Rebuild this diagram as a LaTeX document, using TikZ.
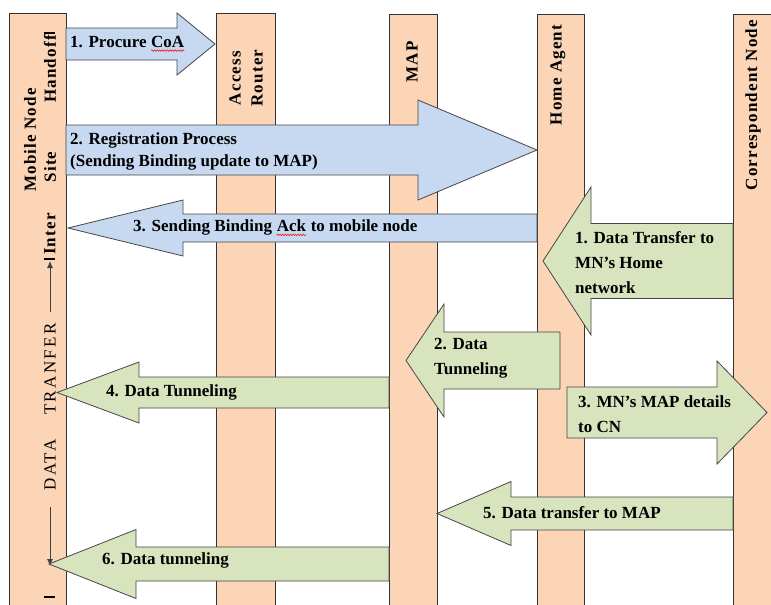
\documentclass[tikz,border=0pt]{standalone}
\usepackage{fontspec}
\setmainfont{Liberation Serif}
\newfontfamily\lanefont{Liberation Serif}[LetterSpace=7]
\newfontfamily\phasefont{Liberation Serif}[LetterSpace=14]
\usetikzlibrary{arrows.meta,decorations.pathmorphing}

\definecolor{lanefill}{RGB}{251,213,181}
\definecolor{bluefill}{RGB}{198,217,241}
\definecolor{greenfill}{RGB}{215,228,189}
\definecolor{edgegray}{RGB}{70,70,70}

% red wavy spell-check line
\newcommand{\spellmark}[1]{\tikz[baseline=(w.base)]{\node[inner sep=0pt] (w) {#1};
    \draw[red, line width=0.5pt, decorate, decoration={snake, amplitude=0.8pt, segment length=2.6pt}]
      ([yshift=-3pt]w.base west) -- ([yshift=-3pt]w.base east);}}

% tail x, head base x, tip x, mid y, half body, half head
\newcommand{\blockarrow}[7][]{%
  \draw[#1] (#2,#5-#6) -- (#3,#5-#6) -- (#3,#5-#7) -- (#4,#5)
    -- (#3,#5+#7) -- (#3,#5+#6) -- (#2,#5+#6) -- cycle;}

\begin{document}
\begin{tikzpicture}[x=1pt, y=-1pt,
        lane/.style={draw=black!80, fill=lanefill, line width=0.8pt, minimum width=#1, minimum height=600pt, anchor=north west, inner sep=0pt},
        lanelabel/.style={rotate=90, align=center, inner sep=0pt, font=\lanefont\bfseries\fontsize{17}{22}\selectfont},
        phaselabel/.style={rotate=90, inner sep=0pt, font=\phasefont\fontsize{17}{22}\selectfont},
        blue arrow/.style={draw=edgegray, fill=bluefill, line width=0.8pt},
        green arrow/.style={draw=edgegray, fill=greenfill, line width=0.8pt},
        msg/.style={anchor=west, align=left, inner sep=0pt, font=\bfseries\fontsize{17}{22}\selectfont},
        msg wide/.style={msg, font=\bfseries\fontsize{17}{25}\selectfont},
        phase/.style={-{Latex[length=7pt,width=6pt]}, line width=0.8pt, draw=black!75},
        phase end/.style={line width=2.5pt}
    ]
    \useasboundingbox (0,0) rectangle (771,605);
    \clip (0,0) rectangle (771,605);

    % lanes
    \node[lane=57pt] (mn) at (9,13) {};
    \node[lane=59pt] (ar) at (216,13) {};
    \node[lane=48pt] (map) at (389,14) {};
    \node[lane=47pt] (ha) at (537,14) {};
    \node[lane=60pt] (cn) at (733,14) {};

    \node[lanelabel] (mnname) at (30,140) {Mobile Node};
    \node[lanelabel] (arname) at (246,78) {Access\\Router};
    \node[lanelabel] (mapname) at (412,62) {MAP};
    \node[lanelabel] (haname) at (558,75) {Home Agent};
    \node[lanelabel] (cnname) at (753,105) {Correspondent Node};

    % phases along the mobile node
    \node[lanelabel] (handoff) at (50,69) {Handoff};
    \node[lanelabel] (site) at (50,167) {Site};
    \node[lanelabel] (inter) at (50,234) {Inter};
    \node[phaselabel] (tranfer) at (50,369) {TRANFER};
    \node[phaselabel] (data) at (50,465) {DATA};

    \coordinate (handoff end a) at (44,33);
    \coordinate (handoff end b) at (55,33);
    \coordinate (inter end a) at (44,259);
    \coordinate (inter end b) at (55,259);
    \coordinate (up from) at (50,312);
    \coordinate (up to) at (50,261);
    \coordinate (down from) at (50,507);
    \coordinate (down to) at (50,566);
    \coordinate (data end a) at (44,597);
    \coordinate (data end b) at (55,597);
    \draw[phase end] (handoff end a) -- (handoff end b);
    \draw[phase end] (inter end a) -- (inter end b);
    \draw[phase end] (data end a) -- (data end b);
    \draw[phase] (up from) -- (up to);
    \draw[phase] (down from) -- (down to);

    % handoff messages
    \blockarrow[blue arrow]{66}{177}{215}{44}{16}{31}
    \blockarrow[blue arrow]{66}{418}{537}{150}{25}{50}
    \blockarrow[blue arrow]{537}{183}{68}{228}{14}{28}

    % data transfer messages
    \blockarrow[green arrow]{733}{591}{543}{261}{37.5}{74}
    \blockarrow[green arrow]{560}{444}{406}{360.5}{28.5}{56.5}
    \blockarrow[green arrow]{567}{717}{767}{412.5}{25.5}{51.5}
    \blockarrow[green arrow]{389}{139}{57}{392.5}{15.5}{30.5}
    \blockarrow[green arrow]{733}{511}{437}{513.5}{16.5}{32}
    \blockarrow[green arrow]{389}{136}{49}{564}{17}{34.5}

    \node[msg] (procure) at (70,44) {1. Procure \spellmark{CoA}};
    \node[msg] (regist) at (70,151) {2. Registration Process\\(Sending Binding update to MAP)};
    \node[msg] (ack) at (133,228) {3. Sending Binding \spellmark{Ack} to mobile node};
    \node[msg wide] (tohome) at (575,263) {1. Data Transfer to\\MN’s Home\\network};
    \node[msg wide] (tunnel2) at (434,358.5) {2. Data\\Tunneling};
    \node[msg wide] (details) at (578,414.5) {3. MN’s MAP details\\to CN};
    \node[msg] (tunnel4) at (106,392) {4. Data Tunneling};
    \node[msg] (tomap) at (483,513) {5. Data transfer to MAP};
    \node[msg] (tunnel6) at (102,560) {6. Data tunneling};
\end{tikzpicture}
\end{document}
